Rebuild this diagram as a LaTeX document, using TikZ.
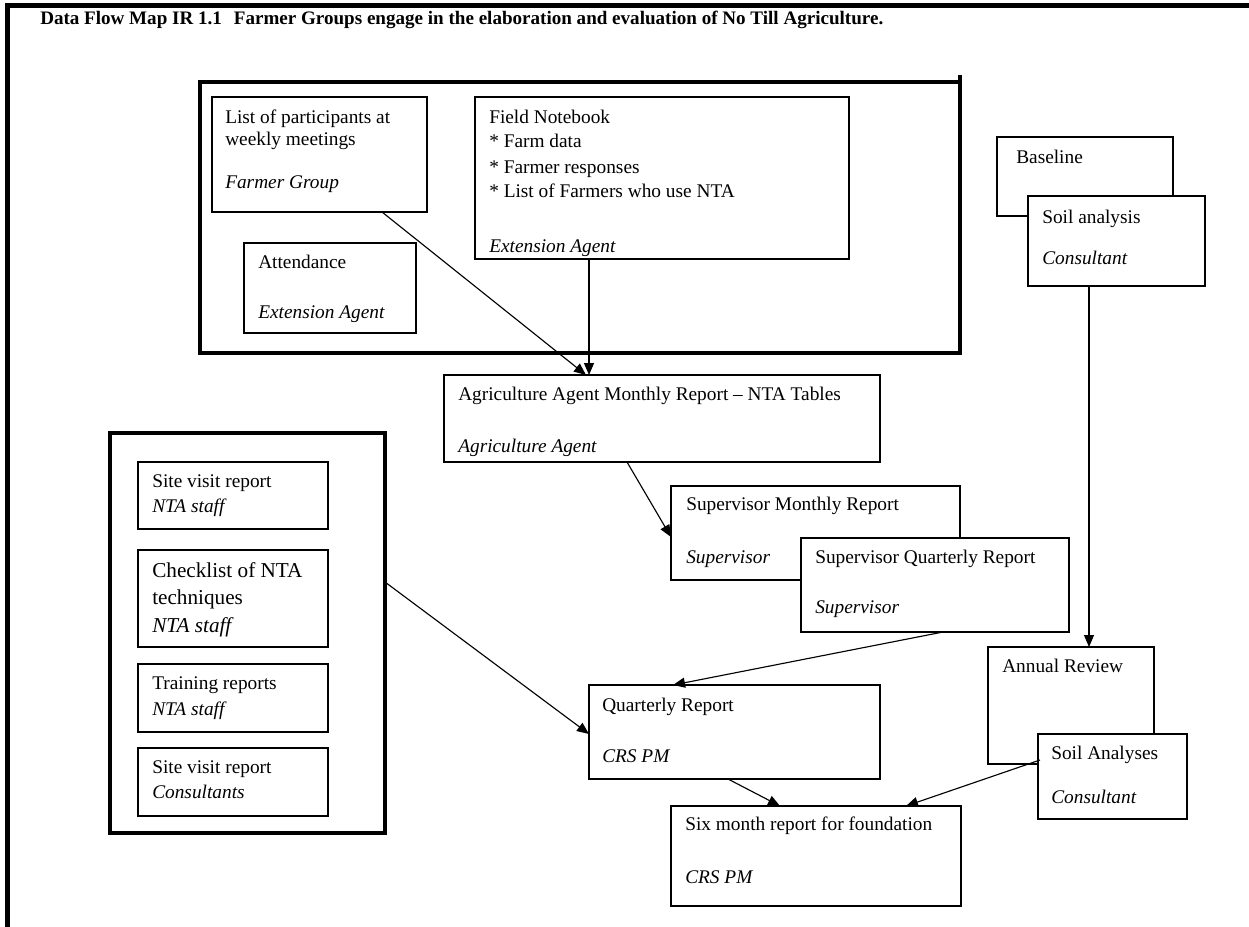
\documentclass[tikz,border=0pt]{standalone}
\usepackage{fontspec}
\setmainfont{Liberation Serif}
\usetikzlibrary{arrows.meta,calc,fit}
\begin{document}
\begin{tikzpicture}[x=0.75pt,y=-0.75pt,
  box/.style={draw, line width=1pt, fill=white, inner sep=0pt, outer sep=0pt},
  groupframe/.style={draw, line width=3.2pt, inner sep=0pt, outer sep=0pt},
  txt/.style={anchor=base west, inner sep=0pt, font=\fontsize{14.5}{17}\selectfont},
  role/.style={anchor=base west, inner sep=0pt, font=\fontsize{14.5}{17}\selectfont\itshape},
  bigtxt/.style={anchor=base west, inner sep=0pt, font=\fontsize{15.9}{18}\selectfont},
  bigrole/.style={anchor=base west, inner sep=0pt, font=\fontsize{15.9}{18}\selectfont\itshape},
  flow/.style={-{Triangle[length=9pt,width=7.5pt]}, line width=0.85pt}]
\useasboundingbox (0,0) rectangle (1249,926);

% page border
\draw[line width=3.75pt] (1260,5.5) -- (7.5,5.5) -- (7.5,940);

% title
\node[anchor=base west, inner sep=0pt, font=\fontsize{14.3}{17}\selectfont\bfseries] (title) at (40,24)
  {Data Flow Map IR 1.1\hspace{9pt}Farmer Groups engage in the elaboration and evaluation of No Till Agriculture.};

% farmer group block
\node[groupframe, fit={(200,82) (960,353)}] (grp) {};
\draw[line width=3.2pt] (grp.north east) -- ++(0,-7);

\node[box, fit={(212,97) (427,212)}] (lp) {};
\node[txt] (lp1) at (225,123) {List of participants at};
\node[txt] (lp2) at (225,145) {weekly meetings};
\node[role] (lp3) at (225,188) {Farmer Group};

\node[box, fit={(244,243) (416,333)}] (att) {};
\node[txt] (att1) at (258,268) {Attendance};
\node[role] (att2) at (258,318) {Extension Agent};

\node[box, fit={(475,97) (849,259)}] (fn) {};
\node[txt] (fn1) at (489,123) {Field Notebook};
\node[txt] (fn2) at (489,147) {* Farm data};
\node[txt] (fn3) at (489,173) {* Farmer responses};
\node[txt] (fn4) at (489,197) {* List of Farmers who use NTA};
\node[role] (fn5) at (489,252) {Extension Agent};

% baseline soil data
\node[box, fit={(997,137) (1173,216)}] (bl) {};
\node[txt] (bl1) at (1016,163) {Baseline};
\node[box, fit={(1028,196) (1205,286)}] (soila) {};
\node[txt] (soila1) at (1042,223) {Soil analysis};
\node[role] (soila2) at (1042,264) {Consultant};

% monthly and quarterly reporting
\node[box, fit={(444,375) (880,462)}] (ag) {};
\node[txt] (ag1) at (458,400) {Agriculture Agent Monthly Report -- NTA Tables};
\node[role] (ag2) at (458,452) {Agriculture Agent};

\node[box, fit={(671,486) (960,580)}] (sm) {};
\node[txt] (sm1) at (686,510) {Supervisor Monthly Report};
\node[role] (sm2) at (686,563) {Supervisor};

\node[box, fit={(801,538) (1069,632)}] (sq) {};
\node[txt] (sq1) at (815,563) {Supervisor Quarterly Report};
\node[role] (sq2) at (815,613) {Supervisor};

% NTA staff block
\node[groupframe, fit={(110,433) (385,833)}] (lf) {};

\node[box, fit={(138,462) (328,529)}] (s1) {};
\node[txt] (s1a) at (152,487) {Site visit report};
\node[role] (s1b) at (152,512) {NTA staff};

\node[box, fit={(138,550) (328,647)}] (s2) {};
\node[bigtxt] (s2a) at (152,577) {Checklist of NTA};
\node[bigtxt] (s2b) at (152,604) {techniques};
\node[bigrole] (s2c) at (152,632) {NTA staff};

\node[box, fit={(138,664) (328,732)}] (s3) {};
\node[txt] (s3a) at (152,689) {Training reports};
\node[role] (s3b) at (152,715) {NTA staff};

\node[box, fit={(138,748) (328,816)}] (s4) {};
\node[txt] (s4a) at (152,773) {Site visit report};
\node[role] (s4b) at (152,798) {Consultants};

% program manager reports
\node[box, fit={(589,685) (880,779)}] (qr) {};
\node[txt] (qr1) at (602,711) {Quarterly Report};
\node[role] (qr2) at (602,762) {CRS PM};

\node[box, fit={(988,647) (1154,764)}] (ar) {};
\node[txt] (ar1) at (1002,672) {Annual Review};
\node[box, fit={(1038,734) (1187,819)}] (soilb) {};
\node[txt] (soilb1) at (1051,759) {Soil Analyses};
\node[role] (soilb2) at (1051,803) {Consultant};

\node[box, fit={(671,806) (961,906)}] (six) {};
\node[txt] (six1) at (685,830) {Six month report for foundation};
\node[role] (six2) at (685,883) {CRS PM};

% data flows
\draw[flow] ($(lp.south west)+(170,0)$) -- ($(ag.north west)+(142,0)$);
\draw[flow] ($(fn.south west)+(114,0)$) -- ($(ag.north west)+(145,0)$);
\draw[flow] ($(ag.south west)+(183,0)$) -- ($(sm.north west)+(0,51)$);
\draw[flow] ($(sq.south west)+(142,0)$) -- ($(qr.north west)+(84,0)$);
\draw[flow] ($(lf.north east)+(0,149)$) -- ($(qr.north west)+(0,49)$);
\draw[flow] ($(soila.south west)+(61,0)$) -- ($(ar.north west)+(101,0)$);
\draw[flow] ($(qr.south west)+(139,0)$) -- ($(six.north west)+(109,0)$);
\draw[flow] ($(soilb.north west)+(2,26)$) -- ($(six.north west)+(235,0)$);
\end{tikzpicture}
\end{document}
